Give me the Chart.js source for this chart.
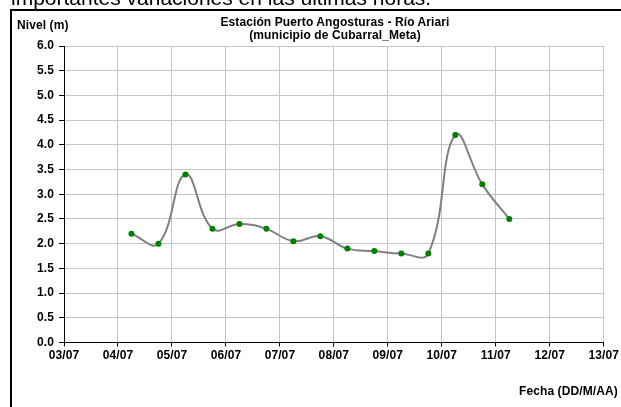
<!DOCTYPE html>
<html>
<head>
<meta charset="utf-8">
<script src="https://cdn.jsdelivr.net/npm/chart.js@4"></script>
<style>
  html, body { margin: 0; padding: 0; background: #fff; width: 621px; height: 407px; overflow: hidden; }
  #wrap { position: relative; width: 621px; height: 407px; }
  canvas { position: absolute; left: 0; top: 0; }
  .t { position: absolute; font-family: "Liberation Sans", Arial, sans-serif; font-weight: bold; font-size: 12px; color: #000; letter-spacing: 0.1px; white-space: nowrap; line-height: 12px; }
  #frame { position: absolute; left: 10px; top: 9px; width: 640px; height: 420px; border-left: 2px solid #000; border-top: 2px solid #000; }
  #intro { position: absolute; left: 11px; top: -14px; font-family: "Liberation Sans", Arial, sans-serif; font-size: 21px; color: #000; white-space: nowrap; line-height: 24px; }
</style>
</head>
<body>
<div id="wrap">
  <canvas id="c" width="621" height="407"></canvas>
  <div id="intro">importantes variaciones en las últimas horas.</div>
  <div id="frame"></div>
  <div class="t" style="left:17px; top:19px;">Nivel (m)</div>
  <div class="t" style="left:135px; width:400px; top:16px; line-height:13px; text-align:center;">Estación Puerto Angosturas - Río Ariari<br>(municipio de Cubarral_Meta)</div>
  <div class="t" style="left:519px; top:385px;">Fecha (DD/M/AA)</div>
</div>
<script>
// ---- data ----
const dayLabels = ['03/07','04/07','05/07','06/07','07/07','08/07','09/07','10/07','11/07','12/07','13/07'];
const obsTimes = ['04/07 06:00','04/07 18:00','05/07 06:00','05/07 18:00','06/07 06:00','06/07 18:00',
                  '07/07 06:00','07/07 18:00','08/07 06:00','08/07 18:00','09/07 06:00','09/07 18:00',
                  '10/07 06:00','10/07 18:00','11/07 06:00'];
const nivel = [2.2, 2.0, 3.4, 2.3, 2.4, 2.3, 2.05, 2.15, 1.9, 1.85, 1.8, 1.8, 4.2, 3.2, 2.5];
const yMin = 0, yMax = 6, yStep = 0.5;

// convert observation time to day offset along axis
function toX(s) {
  const [d, t] = s.split(' ');
  const idx = dayLabels.indexOf(d);
  const h = parseInt(t.split(':')[0], 10);
  return idx + h / 24;
}
const points = obsTimes.map((s, i) => ({ x: toX(s), y: nivel[i] }));

const FONT = { family: '"Liberation Sans", Arial, sans-serif', size: 12, weight: 'bold' };
const spacingPlugin = {
  id: 'spacing',
  beforeUpdate(c) { c.ctx.letterSpacing = '0.1px'; },
  beforeDraw(c) { c.ctx.letterSpacing = '0.1px'; }
};

new Chart(document.getElementById('c'), {
  type: 'scatter',
  data: {
    datasets: [{
      data: points,
      showLine: true,
      borderColor: '#808080',
      borderWidth: 2,
      tension: 0.42,
      pointRadius: 3,
      pointHoverRadius: 3,
      pointBackgroundColor: '#008000',
      pointBorderColor: '#008000',
      pointBorderWidth: 0
    }]
  },
  options: {
    responsive: false,
    animation: false,
    events: [],
    layout: { padding: { left: 0, top: 46, right: 17, bottom: 0 } },
    plugins: { legend: { display: false }, tooltip: { enabled: false }, title: { display: false } },
    scales: {
      x: {
        type: 'linear',
        min: 0, max: dayLabels.length - 1,
        afterFit(s) { s.height = 64.5; },
        afterBuildTicks(s) { s.ticks = dayLabels.map((_, i) => ({ value: i })); },
        ticks: {
          color: '#000', font: FONT, padding: 2, maxRotation: 0, autoSkip: false,
          callback: (v) => dayLabels[v]
        },
        grid: { color: '#c4c4c4', lineWidth: 1, tickColor: '#000', tickLength: 4, drawTicks: true },
        border: { display: true, color: '#000', width: 1 }
      },
      y: {
        min: yMin, max: yMax,
        afterFit(s) { s.width = 64; },
        ticks: {
          stepSize: yStep, color: '#000', font: FONT, padding: 5,
          callback: (v) => Number(v).toFixed(1)
        },
        grid: { color: '#c4c4c4', lineWidth: 1, tickColor: '#000', tickLength: 5, drawTicks: true },
        border: { display: true, color: '#000', width: 1 }
      }
    }
  },
  plugins: [spacingPlugin]
});
</script>
</body>
</html>
